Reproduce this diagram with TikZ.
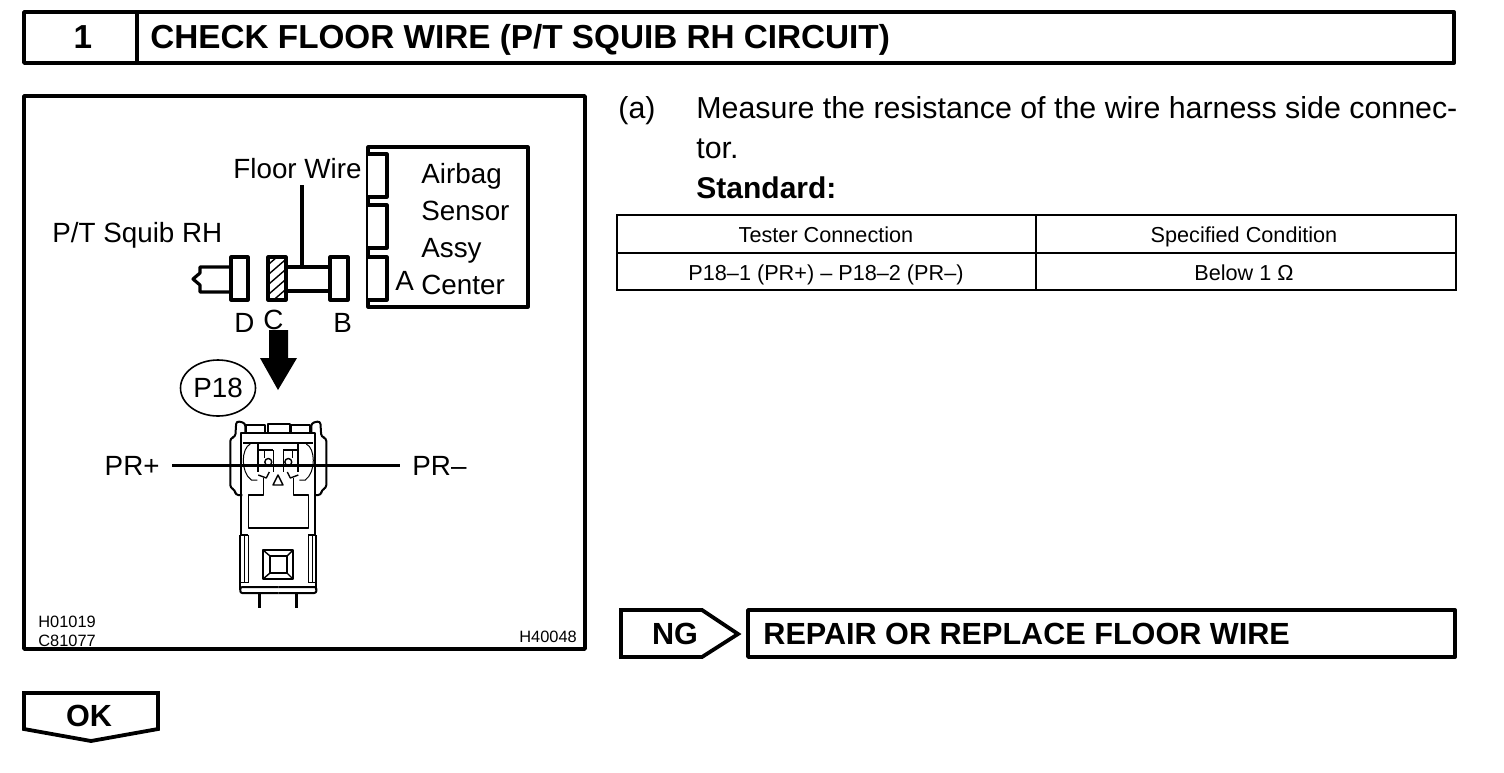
\documentclass[tikz,border=0pt]{standalone}
\usepackage{fontspec}
\setmainfont{Liberation Sans}
\usetikzlibrary{shapes.geometric}
\tikzset{
  frameline/.style={line width=1.9pt,line join=round},
  partline/.style={line width=1.6pt,line join=round},
  tableline/.style={line width=1.2pt},
  plugline/.style={line width=1pt,line join=round},
  fineline/.style={line width=0.7pt,line join=round},
  hairline/.style={line width=0.5pt},
  titletext/.style={font=\fontsize{16.64}{18}\selectfont\bfseries,inner sep=0pt},
  tagtext/.style={font=\fontsize{15.3}{18}\selectfont\bfseries,inner sep=0pt},
  bodytext/.style={font=\fontsize{15.18}{17}\selectfont,inner sep=0pt,anchor=base west},
  partlabel/.style={font=\fontsize{13.9}{16}\selectfont,inner sep=0pt,anchor=base west},
  tabletext/.style={font=\fontsize{10.83}{12}\selectfont,inner sep=0pt,anchor=base},
  drawingno/.style={font=\fontsize{8.2}{9}\selectfont,inner sep=0pt,anchor=base west}
}
\begin{document}
\begin{tikzpicture}[x=0.5pt,y=-0.5pt]
      \useasboundingbox (0,0) rectangle (1504,772);

      \draw [frameline] (24,12) rectangle (1454,63);
      \draw [frameline] (137,12) -- (137,63);
      \node [titletext] (stepno) at (83,37) {1};
      \node [titletext,anchor=base west] (steptitle) at (150,48) {CHECK FLOOR WIRE (P/T SQUIB RH CIRCUIT)};

      \draw [frameline] (24,96) rectangle (585,649);

      \draw [partline] (368,147) rectangle (528,307);
      \foreach \ytop/\ybot in {154/197,205/248,257/300}
        \draw [partline,fill=white] (368,\ytop) -- (387,\ytop) -- (387,\ybot) -- (368,\ybot);
      \node [partlabel] (airbag) at (421,183) {Airbag};
      \node [partlabel] (sensor) at (421,220) {Sensor};
      \node [partlabel] (assy) at (421,257) {Assy};
      \node [partlabel] (center) at (421,294) {Center};
      \node [partlabel] (conna) at (395,290) {A};

      \draw [partline] (231,267) -- (200,267) -- (200,273) -- (193,279) -- (200,285) -- (200,292) -- (231,292);
      \draw [partline] (286,267) -- (330,267);
      \draw [partline] (286,291) -- (330,291);
      \draw [partline] (231,257) rectangle (248,300);
      \draw [partline] (330,257) rectangle (348,300);
      \begin{scope}
        \clip (268,257) rectangle (286,300);
        \foreach \yhatch in {260,270,...,320}
          \draw [fineline] (262,\yhatch) -- (292,\yhatch-26);
      \end{scope}
      \draw [partline] (268,257) rectangle (286,300);
      \node [partlabel] (connd) at (234,332) {D};
      \node [partlabel] (connc) at (263,329) {C};
      \node [partlabel] (connb) at (333,332) {B};

      \node [partlabel] (floorwire) at (233,178) {Floor Wire};
      \coordinate (floorjoin) at (302,267);
      \draw [partline] (302,185) -- (floorjoin);
      \node [partlabel] (squib) at (52,242) {P/T Squib RH};

      \fill (269,330) -- (288,330) -- (288,358) -- (297,358) -- (278,390) -- (260,358) -- (269,358) -- cycle;
      \node [draw,ellipse,line width=0.8pt,minimum width=37.5pt,minimum height=28pt,inner sep=0pt,font=\fontsize{13.9}{16}\selectfont] (ptag) at (218,388) {P18};

      % plug seen from the front
      \foreach \sgn in {-1,1} {
        \begin{scope}[xshift=139.15pt,x={(\sgn*0.5pt,0)}]
          \draw [plugline,rounded corners=1.5pt] (33,433) -- (33,423) -- (42,421) -- (43,437) -- (48,438) -- (48,488) -- (43,490) -- (43,495) -- (36,495);
          \draw [plugline] (0,433) -- (37,433) -- (37,535);
          \draw [plugline] (0,443) -- (35,443);
          \draw [plugline] (13,433) -- (13,425) -- (32,425) -- (32,433);
          \draw [plugline] (5,450) -- (20,450);
          \draw [plugline] (20,443) -- (20,472);
          \draw [fineline] (5,450) -- (5,472);
          \draw [fineline] (14,450) -- (14,458);
          \draw [fineline] (10,462) circle [radius=3.5];
          \draw [hairline] (28,444) .. controls (37,448) and (38,472) .. (27,480) -- (21,480);
          \draw [fineline] (9,472) -- (12,478) -- (20,475);
          \draw [fineline] (15,478) -- (15,495) -- (30,495) -- (30,528) -- (0,528);
          \draw [plugline] (38,535) -- (30,535);
          \draw [plugline] (38,535) -- (38,590);
          \draw [hairline] (30,535) -- (30,582) -- (38,582);
          \draw [fineline] (34,535) -- (34,582);
          \draw [plugline,rounded corners=1pt] (0,593) -- (38,593) -- (38,587) -- (0,587);
          \draw [partline] (18.5,593) -- (18.5,608);
        \end{scope}
      }
      \draw [plugline] (268,433) -- (268,424) -- (290,424) -- (290,433);
      \draw [fineline] (278,475) -- (273,485) -- (283,485) -- cycle;
      \draw [fineline] (263,550) rectangle (293,579);
      \draw [fineline] (270,556) rectangle (287,573);
      \draw [fineline] (263,550) -- (270,556);
      \draw [fineline] (293,550) -- (287,556);
      \draw [fineline] (263,579) -- (270,573);
      \draw [fineline] (293,579) -- (287,573);

      \node [partlabel,anchor=base east,inner sep=6pt] (prplus) at (172,475) {PR+};
      \node [partlabel,anchor=base west,inner sep=6pt] (prminus) at (400,475) {PR–};
      \draw [partline] (prplus) -- (prminus);

      \node [drawingno] (drawa) at (38,627) {H01019};
      \node [drawingno] (drawb) at (38,646) {C81077};
      \node [drawingno] (drawc) at (519,642) {H40048};

      \node [bodytext] (itema) at (618,118) {(a)};
      \node [bodytext] (lineone) at (696,118) {Measure the resistance of the wire harness side connec-};
      \node [bodytext] (linetwo) at (696,158) {tor.};
      \node [bodytext,font=\fontsize{15}{17}\selectfont\bfseries] (standard) at (696,198) {Standard:};

      \draw [tableline] (617,215) rectangle (1456,290);
      \draw [tableline] (617,253) -- (1456,253);
      \draw [tableline] (1036,215) -- (1036,290);
      \node [tabletext] (headleft) at (826,242) {Tester Connection};
      \node [tabletext] (headright) at (1244,242) {Specified Condition};
      \node [tabletext] (cellleft) at (826,280) {P18–1 (PR+) – P18–2 (PR–)};
      \node [tabletext] (cellright) at (1244,280) {Below 1 Ω};

      \draw [frameline,line join=miter] (621,610) -- (702,610) -- (738,634) -- (702,657) -- (621,657) -- cycle;
      \node [tagtext] (ngtag) at (675,634) {NG};
      \draw [frameline] (748,610) rectangle (1455,657);
      \node [tagtext,anchor=base west] (ngtext) at (763,644) {REPAIR OR REPLACE FLOOR WIRE};

      \draw [frameline,line join=miter] (24,693) -- (158,693) -- (158,729) -- (91,741) -- (24,729) -- cycle;
      \node [tagtext] (oktag) at (89,716) {OK};
    \end{tikzpicture}
\end{document}
